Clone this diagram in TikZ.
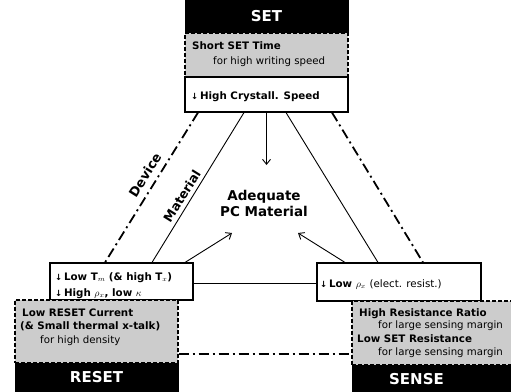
\documentclass[tikz,border=0pt]{standalone}
\usepackage{fontspec}
\setmainfont{DejaVu Sans}
\usetikzlibrary{arrows.meta,calc}
\newcommand{\dnarr}{{\fontsize{8.5}{8}\selectfont\bfseries ↓}\,}
\begin{document}
\begin{tikzpicture}[x=1pt,y=-1pt,
  hdr/.style={fill=black,draw=black,inner sep=0pt,text=white,font=\bfseries\fontsize{15}{15}\selectfont},
  grayreg/.style={fill=black!20,draw=black,line width=1.1pt,dash pattern=on 4pt off 2pt,inner sep=0pt},
  whitebox/.style={fill=white,draw=black,line width=1.1pt,inner sep=0pt},
  conn/.style={line width=0.9pt},
  dd/.style={line width=1.8pt,dash pattern=on 10pt off 4pt on 2pt off 4pt},
  arr/.style={-{Straight Barb[length=5pt,width=8pt]},line width=0.9pt},
  txb/.style={anchor=base west,inner sep=0pt,font=\bfseries\fontsize{10.3}{12}\selectfont},
  txr/.style={anchor=base west,inner sep=0pt,font=\fontsize{10.2}{12}\selectfont},
  boxt/.style={anchor=base west,inner sep=0pt,font=\bfseries\fontsize{10.3}{12}\selectfont},
  lab/.style={inner sep=0pt,font=\bfseries\fontsize{13}{13}\selectfont}
]
\clip (0,0) rectangle (511,391);
\fill[white] (0,0) rectangle (511,391);

% SET block
\node[hdr,minimum width=163pt,minimum height=33pt] (seth) at (266.5,16.5) {SET};
\node[grayreg,minimum width=163pt,minimum height=44pt] (setg) at (266.5,55) {};
\node[whitebox,minimum width=163pt,minimum height=35pt] (setw) at (266.5,94.5) {};

% RESET block
\node[whitebox,minimum width=143pt,minimum height=37pt] (resw) at (121.5,281.5) {};
\node[grayreg,minimum width=163pt,minimum height=63pt] (resg) at (96.5,331.5) {};
\node[hdr,minimum width=163pt,minimum height=28pt] (resh) at (96.5,377) {RESET};

% SENSE block
\node[whitebox,minimum width=164pt,minimum height=38pt] (senw) at (399,282) {};
\node[grayreg,minimum width=163pt,minimum height=64pt] (seng) at (433.5,333) {};
\node[hdr,minimum width=163pt,minimum height=28pt] (senh) at (433.5,379) {\hspace*{-34pt}SENSE};

% centre
\node[inner sep=0pt,align=center,font=\bfseries\fontsize{13.5}{16}\selectfont] (adq) at (264,203) {Adequate\\PC Material};
\coordinate (tipA) at (266.5,165);
\coordinate (tipL) at (232,233);
\coordinate (tipR) at (298,233);

% connectors
\draw[conn] ([xshift=-22.5pt]setw.south) -- ([xshift=30.5pt]resw.north);
\draw[dd] ([xshift=-68.5pt]setw.south) -- ([xshift=-16.5pt]resw.north);
\draw[conn] ([xshift=19.5pt]setw.south) -- ([xshift=-21pt]senw.north);
\draw[dd] ([xshift=65.5pt]setw.south) -- ([xshift=24pt]senw.north);
\draw[conn] ([yshift=-1.5pt]resw.east) -- ([yshift=-1pt]senw.west);
\draw[dd] ([yshift=-22.5pt]resg.east) -- ([yshift=-21pt]seng.west);
\draw[arr] (setw.south) -- (tipA);
\draw[arr] ([xshift=63.5pt]resw.north) -- (tipL);
\draw[arr] ([xshift=-54pt]senw.north) -- (tipR);

% labels on lines
\node[lab,rotate=58] (ldev) at (145,175) {Device};
\node[lab,rotate=58,font=\bfseries\fontsize{12.5}{12}\selectfont] (lmat) at (182,196) {Material};

% SET texts
\node[txb] (t1) at (192,49) {Short SET Time};
\node[txr] (t2) at (213,64) {for high writing speed};
\node[boxt] (t3) at (191,99.5) {\dnarr High Crystall. Speed};

% RESET texts
\node[boxt] (t4) at (55,280) {\dnarr Low T$_m$ (\& high T$_x$)};
\node[boxt] (t5) at (55,296) {\dnarr High $\rho_x$, low $\kappa$};
\node[txb] (t6) at (22,316) {Low RESET Current};
\node[txb] (t7) at (20,329) {(\& Small thermal x-talk)};
\node[txr] (t8) at (40,343) {for high density};

% SENSE texts
\node[boxt] (t9) at (320,287) {\dnarr Low $\rho_x$ \mdseries(elect. resist.)};
\node[txb] (t10) at (359,316) {High Resistance Ratio};
\node[txr] (t11) at (378,328) {for large sensing margin};
\node[txb] (t12) at (357,342) {Low SET Resistance};
\node[txr] (t13) at (378,355) {for large sensing margin};
\end{tikzpicture}
\end{document}
